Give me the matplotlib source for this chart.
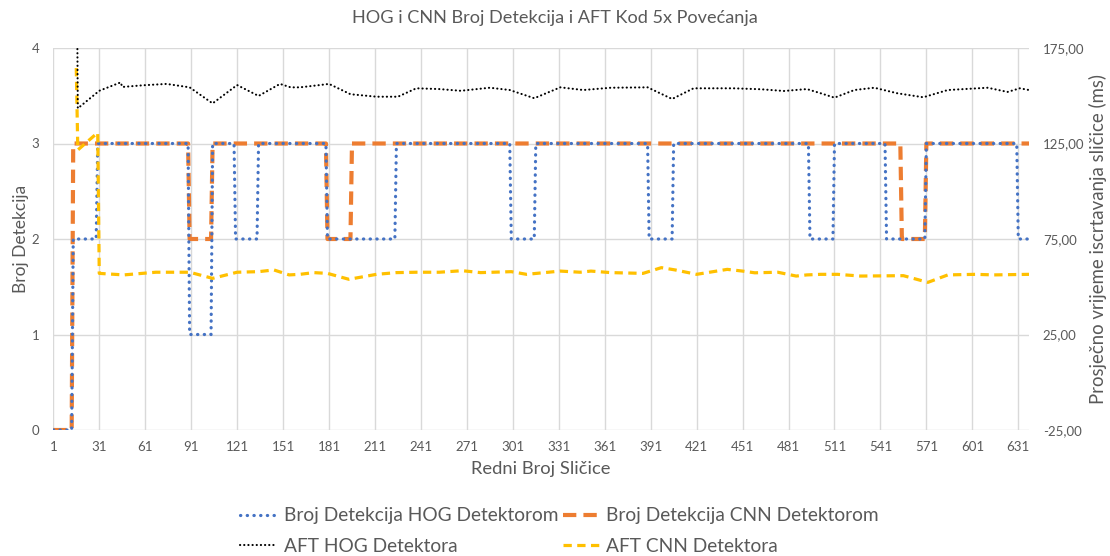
import numpy as np
import matplotlib
matplotlib.use("Agg")
import matplotlib.pyplot as plt
from matplotlib.lines import Line2D

plt.rcParams['font.family'] = ['Lato', 'DejaVu Sans']

# ---------------- data ----------------
n_frames = 638
# detection counts as runs: value starting at given frame
hog_run_start = [1, 14, 30, 90, 105, 120, 135, 180, 225, 300, 316, 390, 406, 495, 511, 545, 571, 631]
hog_run_value = [0, 2, 3, 1, 3, 2, 3, 2, 3, 2, 3, 2, 3, 2, 3, 2, 3, 2]
cnn_run_start = [1, 14, 90, 105, 180, 196, 555, 571]
cnn_run_value = [0, 3, 2, 3, 2, 3, 2, 3]

# average frame time (ms), read at sample frames
aft_hog_frames = [16, 17, 31, 45, 46, 60, 75, 90, 105, 121, 135, 149, 156, 162, 175, 181, 195, 212,
                  226, 238, 253, 267, 286, 299, 315, 332, 347, 365, 389, 405, 419, 445, 463, 478,
                  493, 502, 511, 524, 537, 552, 569, 585, 611, 624, 632, 638]
aft_hog_values = [260, 143.4, 152.6, 157.0, 154.6, 155.5, 156.2, 154.4, 146.0, 155.6, 149.9, 156.2,
                  154.4, 154.4, 155.6, 156.2, 150.8, 149.5, 149.5, 153.9, 153.5, 152.6, 154.2, 153.0,
                  148.7, 154.4, 153.0, 154.2, 154.4, 148.3, 153.9, 153.9, 153.4, 152.5, 153.5, 151.3,
                  149.0, 153.0, 154.2, 151.3, 149.2, 153.0, 154.2, 152.0, 153.9, 153.0]
aft_cnn_frames = [16, 17, 30, 31, 47, 68, 90, 105, 121, 135, 145, 155, 162, 171, 180, 194, 212, 225,
                  238, 253, 268, 280, 300, 310, 332, 345, 352, 365, 386, 398, 407, 421, 441, 451,
                  459, 474, 486, 493, 502, 513, 528, 556, 572, 585, 603, 615, 638]
aft_cnn_values = [164.5, 121.6, 130.7, 57.0, 56.2, 57.6, 57.6, 54.4, 57.6, 57.9, 58.8, 56.2, 56.5,
                  57.4, 57.0, 53.9, 56.5, 57.4, 57.6, 57.6, 58.4, 57.4, 57.9, 56.5, 58.2, 57.6, 58.2,
                  57.4, 57.0, 60.0, 58.8, 56.5, 59.1, 58.2, 57.3, 57.6, 55.6, 56.2, 56.5, 56.5, 55.6,
                  55.8, 52.3, 56.2, 56.5, 56.2, 56.5]

x_ticks = list(range(1, 632, 30))
left_ticks = [0, 1, 2, 3, 4]
right_ticks = [-25, 25, 75, 125, 175]

labels = ['Broj Detekcija HOG Detektorom', 'Broj Detekcija CNN Detektorom',
          'AFT HOG Detektora', 'AFT CNN Detektora']
title = 'HOG i CNN Broj Detekcija i AFT Kod 5x Povećanja'


def expand(starts, values, n):
    lengths = np.diff(list(starts) + [n + 1])
    return np.repeat(values, lengths)


frames = np.arange(1, n_frames + 1)
hog = expand(hog_run_start, hog_run_value, n_frames)
cnn = expand(cnn_run_start, cnn_run_value, n_frames)

# ---------------- style ----------------
c_blue = '#4472C4'
c_orange = '#ED7D31'
c_black = '#000000'
c_yellow = '#FFC000'
c_text = '#595959'
c_grid = '#D9D9D9'

st_cnn = dict(color=c_orange, lw=3.0, ls=(0, (3.2, 1.7)), dash_capstyle='butt')
st_hog = dict(color=c_blue, lw=2.3, ls=(0, (0.1, 2.0)), dash_capstyle='round')
st_ah = dict(color=c_black, lw=1.5, ls=(0, (0.1, 1.9)), dash_capstyle='round')
st_ac = dict(color=c_yellow, lw=2.3, ls=(0, (2.6, 1.7)), dash_capstyle='butt')

fig = plt.figure(figsize=(11.10, 5.56), dpi=100)
ax = fig.add_axes([53.3 / 1110, 1 - 430 / 556, (1029 - 53.3) / 1110, (430 - 48) / 556])
ax2 = ax.twinx()

ax.plot(frames, cnn, zorder=3, **st_cnn)
ax.plot(frames, hog, zorder=4, **st_hog)
ax2.plot(aft_hog_frames, aft_hog_values, zorder=3, **st_ah)
ax2.plot(aft_cnn_frames, aft_cnn_values, zorder=2, **st_ac)

ax.set_xlim(1, n_frames)
ax.set_ylim(0, 4)
ax2.set_ylim(-25, 175)
ax.set_xticks(x_ticks)
ax.set_xticklabels([str(t) for t in x_ticks])
ax.set_yticks(left_ticks)
ax2.set_yticks(right_ticks)
ax2.set_yticklabels([f'{t:.2f}'.replace('.', ',') for t in right_ticks])

ax.grid(True, color=c_grid, lw=1.0, zorder=0)
ax.set_axisbelow(True)
for a in (ax, ax2):
    for s in a.spines.values():
        s.set_visible(False)
    a.tick_params(length=0, colors=c_text, labelsize=9.5)
ax.tick_params(axis='x', pad=8)
ax.tick_params(axis='y', pad=10)
ax2.tick_params(axis='y', pad=10)

ax.set_xlabel('Redni Broj Sličice', fontsize=13.2, color=c_text, labelpad=6)
ax.set_ylabel('Broj Detekcija', fontsize=12.5, color=c_text, labelpad=2)
ax2.set_ylabel('Prosječno vrijeme iscrtavanja sličice (ms)', fontsize=13.4, color=c_text, labelpad=3)

fig.text(0.5, 1 - 18 / 556, title, ha='center', va='center', fontsize=13.1, color=c_text)

handles = [Line2D([], [], **st_hog), Line2D([], [], **st_ah),
           Line2D([], [], **st_cnn), Line2D([], [], **st_ac)]
leg = fig.legend(handles, [labels[0], labels[2], labels[1], labels[3]],
                 ncol=2, loc='center', bbox_to_anchor=(559.5 / 1110, 1 - 531 / 556),
                 frameon=False, fontsize=13.8, handlelength=1.9, handletextpad=0.35,
                 columnspacing=0.25, labelspacing=0.68, labelcolor=c_text, borderpad=0.2)

fig.savefig('out.png', dpi=100)
